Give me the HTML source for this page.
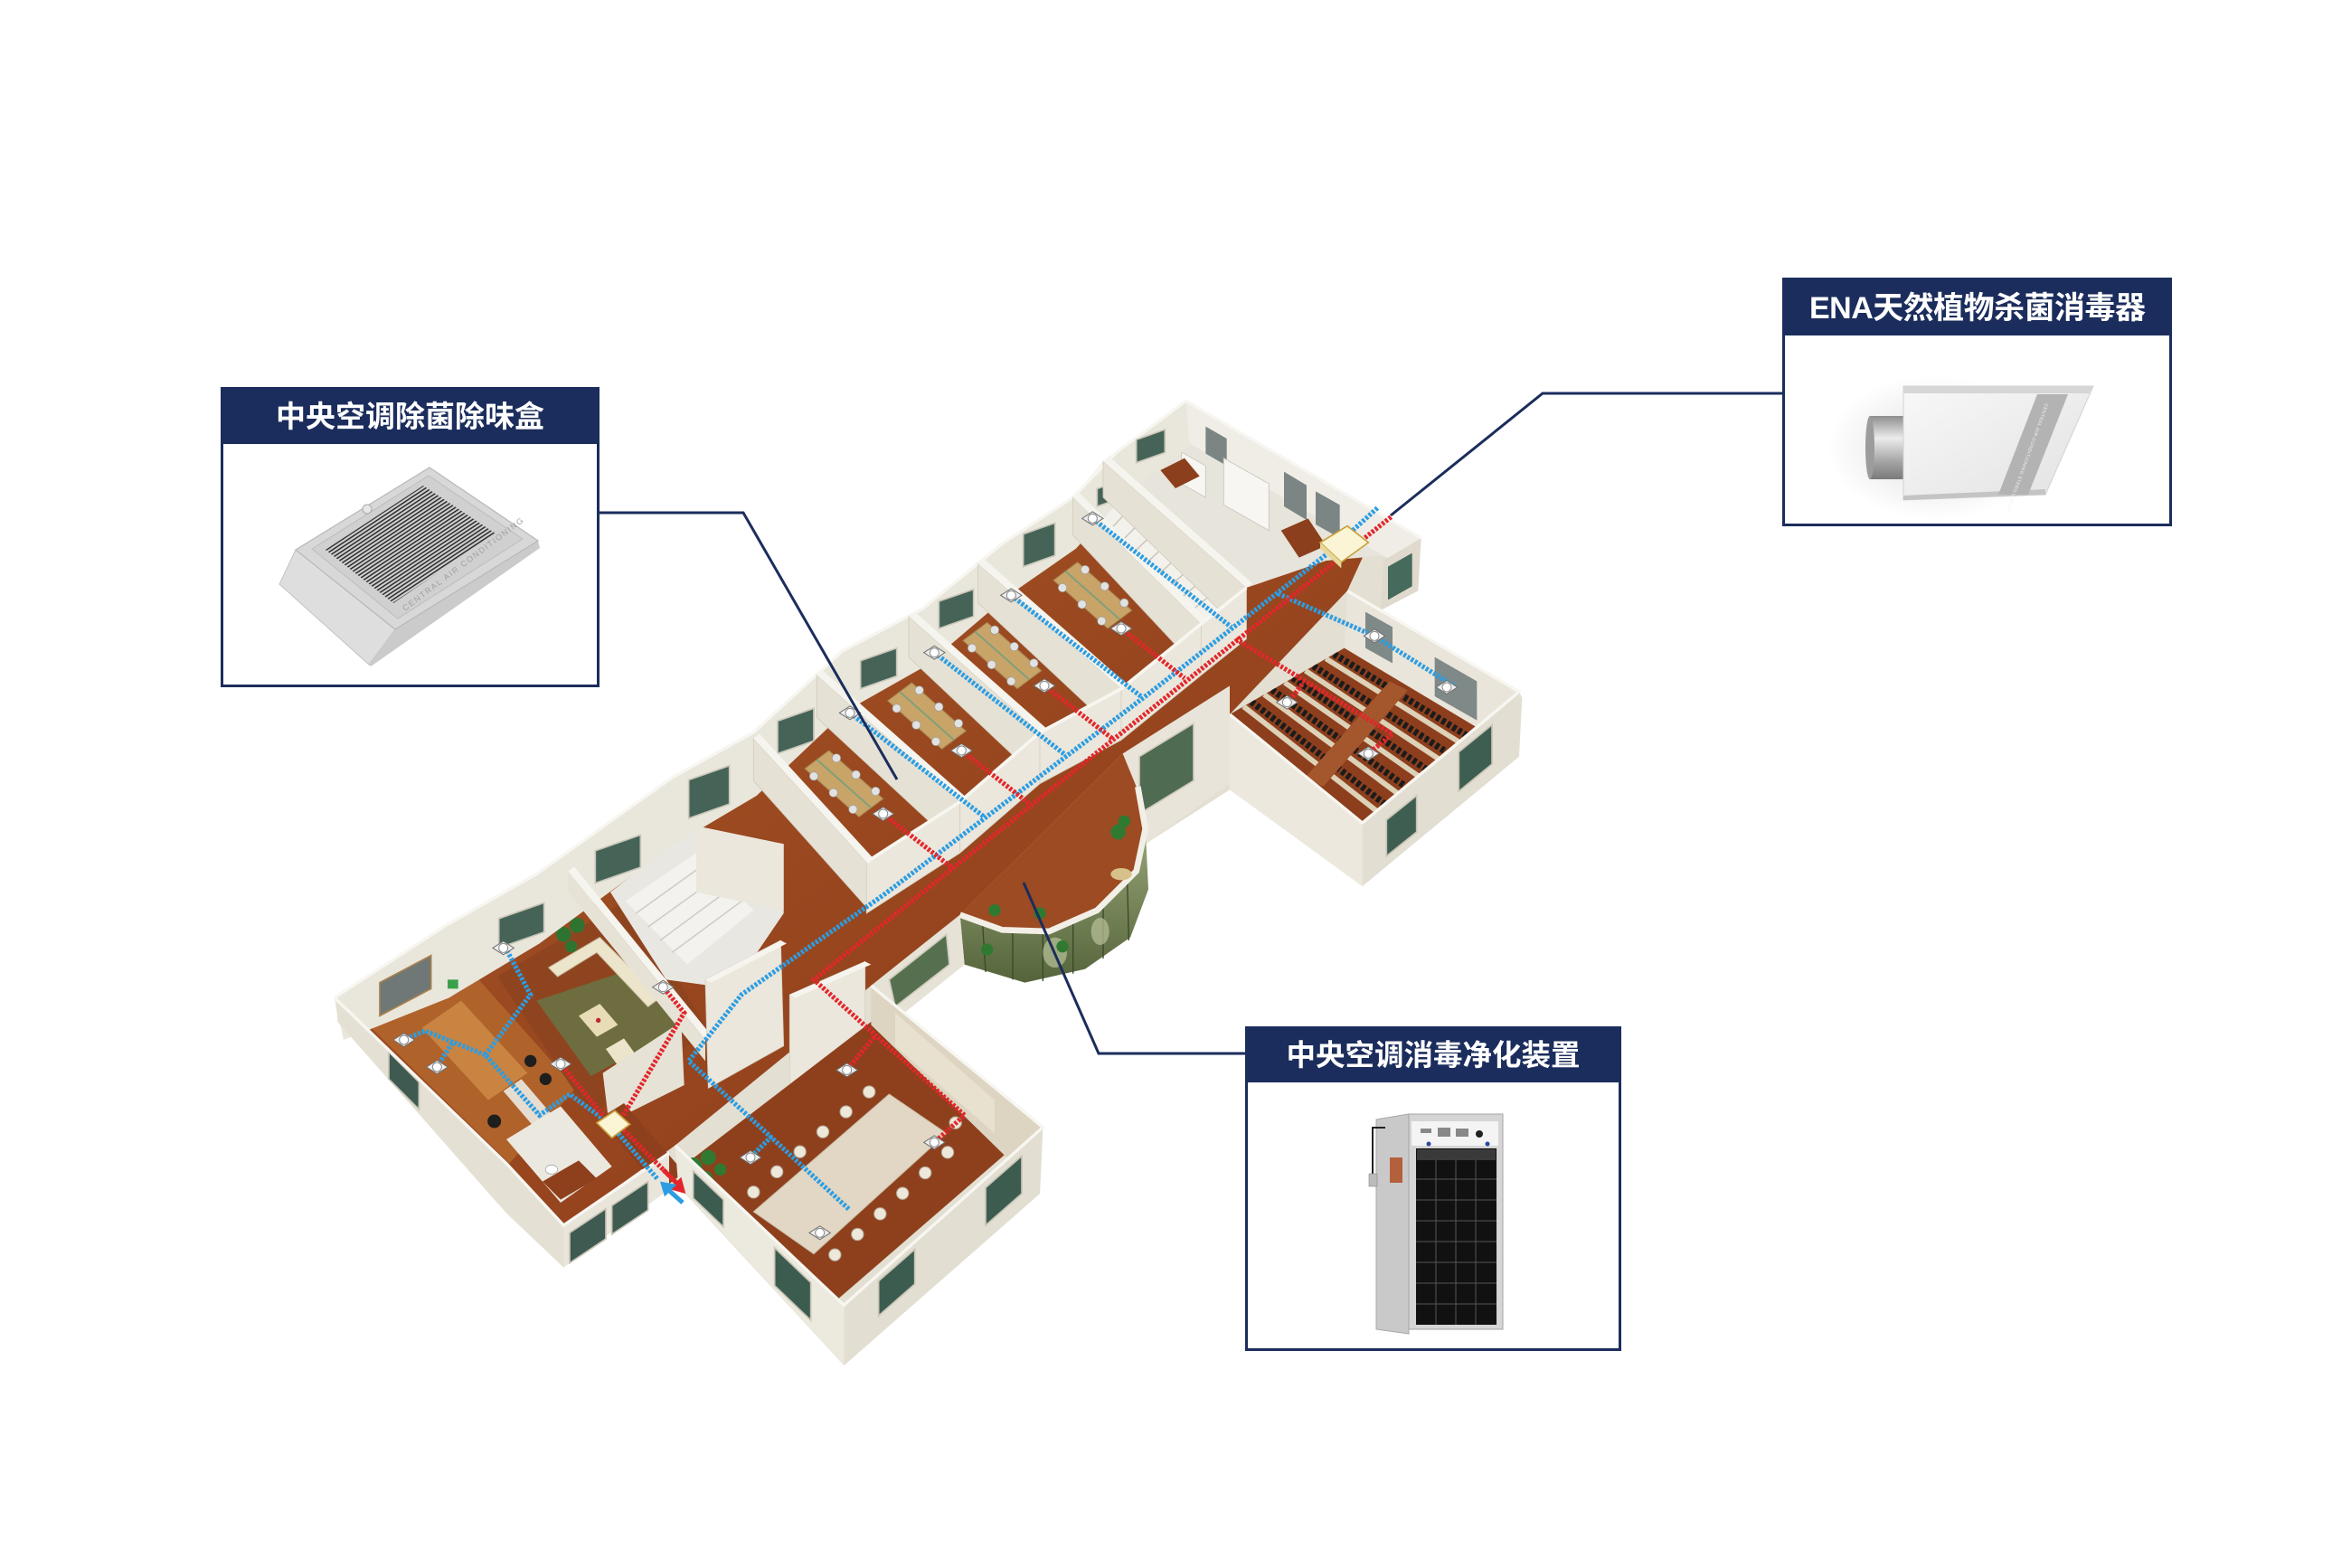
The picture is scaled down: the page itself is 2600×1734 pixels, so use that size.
<!DOCTYPE html>
<html lang="zh"><head><meta charset="utf-8"><title>中央空调消毒系统示意图</title>
<style>
html,body{margin:0;padding:0;background:#ffffff;width:2600px;height:1734px;overflow:hidden;}
svg{display:block;}
.t{font-family:"Liberation Sans","Noto Sans CJK SC",sans-serif;font-weight:700;fill:#ffffff;}
</style></head>
<body>
<svg xmlns="http://www.w3.org/2000/svg" width="2600" height="1734" viewBox="0 0 2600 1734">
<defs>
<linearGradient id="wood" x1="0" y1="0" x2="1" y2="1">
<stop offset="0" stop-color="#a8582a"/><stop offset="0.5" stop-color="#99471f"/><stop offset="1" stop-color="#8a3b19"/>
</linearGradient>
<linearGradient id="glass" x1="0" y1="0" x2="0" y2="1">
<stop offset="0" stop-color="#96a476"/><stop offset="1" stop-color="#56643c"/>
</linearGradient>
<linearGradient id="cyl" x1="0" y1="0" x2="0" y2="1">
<stop offset="0" stop-color="#8e8e8e"/><stop offset="0.35" stop-color="#ececec"/><stop offset="0.7" stop-color="#a8a8a8"/><stop offset="1" stop-color="#7a7a7a"/>
</linearGradient>
<linearGradient id="ena" x1="0" y1="0" x2="1" y2="1">
<stop offset="0" stop-color="#f8f8f8"/><stop offset="1" stop-color="#e2e2e2"/>
</linearGradient>
<radialGradient id="shadow" cx="0.5" cy="0.5" r="0.5">
<stop offset="0" stop-color="#000" stop-opacity="0.13"/><stop offset="1" stop-color="#000" stop-opacity="0"/>
</radialGradient>
<pattern id="slots" width="12" height="3.6" patternUnits="userSpaceOnUse" patternTransform="rotate(-33.5)">
<rect x="0" y="0" width="12" height="1.5" fill="#2a2a2a"/>
</pattern>
<clipPath id="lec"><polygon points="816,474 892,430 1004,497 904,546"/></clipPath>
<g id="df"><polygon points="-7,0 0,-4.5 7,0 0,4.5" fill="#eeeeee" stroke="#6f6f6f" stroke-width="0.6"/><circle r="3" fill="#ffffff" stroke="#8a8a8a" stroke-width="0.6"/></g>
<g id="desk"><polygon points="-26,-10 10,22 26,10 -10,-22" fill="#c9a469" stroke="#a58350" stroke-width="0.6"/><line x1="-18" y1="-16" x2="18" y2="16" stroke="#7fa07a" stroke-width="1.2"/><g fill="#e2e2e2" stroke="#9a9a9a" stroke-width="0.4"><circle cx="-20" cy="-5" r="2.8"/><circle cx="-7" cy="6" r="2.8"/><circle cx="6" cy="17" r="2.8"/><circle cx="-5" cy="-17" r="2.8"/><circle cx="8" cy="-6" r="2.8"/><circle cx="21" cy="5" r="2.8"/></g></g>
</defs>

<rect width="2600" height="1734" fill="#ffffff"/>

<!-- ================= BUILDING (drawn in 1560x1040 units) ================= -->
<g transform="scale(1.666667)">
<polygon fill="#e3dfd2" points="222,662 296,614 356,580 446,516 500,486 559,432 612,404 666,360 712,330 741,300 787,266 943,357 941,373 916,405 1008,459 1010,463 1008,502 904,588 816,524 757,562 762,590 750,622 720,643 680,652 640,640 600,672 692,748 690,792 560,906 450,787 444,789 374,841 336,803 224,675"/>
<polygon fill="url(#wood)" points="230,668 300,630 356,598 446,540 500,510 559,458 612,430 666,388 712,358 741,330 790,300 905,368 894,392 816,474 745,500 637,607 578,654 448,760 374,813 336,778 226,668"/>

<!-- upper block -->
<polygon fill="#e7e4db" points="732,306 787,266 943,357 925,368 880,372 827,390"/>
<polygon fill="#efede6" points="787,266 943,357 941,382 789,294"/>
<polygon fill="#7b8584" points="800,283 814,291 814,309 800,301"/>
<polygon fill="#7b8584" points="852,313 867,322 867,345 852,336"/>
<polygon fill="#7b8584" points="873,326 889,335 889,357 873,348"/>
<polygon fill="#f7f6f2" stroke="#cfcbc2" stroke-width="0.6" points="812,304 842,321 842,352 812,335"/>
<polygon fill="#f7f6f2" stroke="#cfcbc2" stroke-width="0.6" points="784,300 800,309 800,330 784,321"/>
<polygon fill="#8c3f1c" points="770,312 786,304 796,316 780,324"/>
<polygon fill="#8c3f1c" points="850,352 868,344 880,362 862,370"/>
<polygon fill="#dfdacd" points="918,372 943,357 941,392 916,405"/>
<polygon fill="#466a5c" points="921,376 937,367 937,389 921,398"/>

<!-- stairs -->
<polygon fill="#f3f1eb" points="712,330 732,306 827,390 797,414"/>
<g stroke="#cbc6bb" stroke-width="0.9">
<line x1="719.7" y1="337.6" x2="740.6" y2="313.6"/><line x1="727.5" y1="345.3" x2="749.3" y2="321.3"/>
<line x1="735.2" y1="352.9" x2="757.9" y2="328.9"/><line x1="742.9" y1="360.5" x2="766.5" y2="336.5"/>
<line x1="750.6" y1="368.2" x2="775.2" y2="344.2"/><line x1="758.4" y1="375.8" x2="783.8" y2="351.8"/>
<line x1="766.1" y1="383.5" x2="792.5" y2="359.5"/><line x1="773.8" y1="391.1" x2="801.1" y2="367.1"/>
<line x1="781.5" y1="398.7" x2="809.7" y2="374.7"/><line x1="789.3" y1="406.4" x2="818.4" y2="382.4"/>
</g>

<!-- left part rooms -->
<polygon fill="#b0622b" points="232,668 298,628 382,722 338,772"/>
<polygon fill="#c98442" points="280,682 306,664 350,712 324,730"/>
<polygon fill="#8f4420" points="330,648 418,596 470,684 392,740"/>
<polygon fill="#6e6d3f" points="356,664 416,644 452,682 392,714"/>
<polygon fill="#ece4cb" stroke="#c9bf9f" stroke-width="0.6" points="364,642 398,622 438,662 430,668 396,632 370,648"/>
<polygon fill="#e8dcb6" points="384,674 398,666 410,680 396,688"/>
<circle cx="397" cy="677" r="1.6" fill="#c0282a"/>
<polygon fill="#ece4cb" points="402,696 414,689 422,700 410,707"/>
<g fill="#2e7430"><circle cx="374" cy="620" r="5"/><circle cx="383" cy="614" r="5"/><circle cx="379" cy="628" r="4"/></g>
<!-- stair hall (light) -->
<polygon fill="#e9e7e1" points="405,592 462,548 520,560 520,606 486,656 442,650"/>
<polygon fill="#f3f2ee" points="415,598 462,566 500,604 456,640"/>
<g stroke="#cfcbc2" stroke-width="0.9"><line x1="422" y1="606" x2="468" y2="573"/><line x1="430" y1="615" x2="476" y2="582"/><line x1="438" y1="624" x2="484" y2="590"/><line x1="446" y1="632" x2="492" y2="598"/></g>
<polygon fill="#ebe7dc" points="462,548 520,560 520,604 462,592"/>
<polygon fill="#e6ddd0" points="334,724 346,716 370,744 358,752"/>
<g fill="#1e1e1e"><circle cx="352" cy="704" r="4"/><circle cx="362" cy="716" r="4"/><circle cx="328" cy="744" r="4.5"/></g>

<!-- back wall band -->
<polygon fill="#e9e6dc" points="222,662 296,614 356,580 446,516 500,486 559,432 612,404 666,360 712,330 741,300 787,266 789,296 743,332 714,364 668,396 614,442 561,472 502,528 448,560 358,626 298,662 228,690"/>
<polyline fill="none" stroke="#f7f6f1" stroke-width="2" points="222,662 296,614 356,580 446,516 500,486 559,432 612,404 666,360 712,330 741,300 787,266 943,357"/>
<g fill="#456457" stroke="#cbc7ba" stroke-width="1">
<polygon points="331,609.5 361,599 361,618.5 331,629"/>
<polygon points="395,564.5 425,554 425,575.5 395,586"/>
<polygon points="457,517.5 484,508 484,533.5 457,543"/>
<polygon points="516,478.4 540,470 540,491.6 516,500"/>
<polygon points="571,438.4 595,430 595,448.6 571,457"/>
<polygon points="623,399 646,391 646,409 623,417"/>
<polygon points="679,354.4 700,347 700,368.6 679,376"/>
<polygon points="728,324.3 746,318 746,329.7 728,336"/>
<polygon points="754,291.7 773,285 773,300.3 754,307"/>
</g>
<polygon fill="#6f7876" stroke="#a9814c" stroke-width="1" points="252,652 286,634 286,656 252,674"/>
<rect x="297" y="650" width="7" height="6" fill="#3aa14a"/>

<!-- office desks -->
<use href="#desk" x="560" y="520"/>
<use href="#desk" x="615" y="475"/>
<use href="#desk" x="665" y="435"/>
<use href="#desk" x="725" y="395"/>

<!-- office partitions -->
<g fill="#e5e1d5" stroke="#d2ccbd" stroke-width="0.5">
<polygon points="500,490 575,572 575,602 500,518"/>
<polygon points="542,448 637,532 637,564 542,476"/>
<polygon points="603,409 690,486 690,518 603,436"/>
<polygon points="649,374 744,457 744,489 649,400"/>
<polygon points="712,330 797,414 797,446 712,355"/>
<polygon points="732,306 827,390 827,422 732,330"/>
</g>
<g fill="#f6f4ee">
<polygon points="500,490 504,487 579,569 575,572"/>
<polygon points="542,448 546,445 641,529 637,532"/>
<polygon points="603,409 607,406 694,483 690,486"/>
<polygon points="649,374 653,371 748,454 744,457"/>
<polygon points="712,330 716,327 801,411 797,414"/>
<polygon points="732,306 736,303 831,387 827,390"/>
</g>
<g fill="#ebe7dc" stroke="#d6d0c2" stroke-width="0.5">
<polygon points="575,572 637,532 637,566 575,606"/>
<polygon points="637,532 690,486 690,520 637,566"/>
<polygon points="690,486 744,457 744,491 690,520"/>
<polygon points="744,457 797,414 797,448 744,491"/>
<polygon points="797,414 827,390 827,424 797,448"/>
</g>
<polyline fill="none" stroke="#f7f6f1" stroke-width="2.2" points="575,572 637,532 690,486 744,457 797,414 827,390"/>

<!-- lobby slabs -->
<polygon fill="#e6e2d6" points="377,578 468,690 468,704 377,592"/>
<polygon fill="#f6f4ee" points="377,578 381,575 472,687 468,690"/>
<polygon fill="#ebe7dc" stroke="#d6d0c2" stroke-width="0.5" points="468,650 518,624 520,694 470,722"/>
<polygon fill="#f6f4ee" points="468,650 518,624 522,626 472,652"/>
<polygon fill="#ebe7dc" stroke="#d6d0c2" stroke-width="0.5" points="524,660 574,638 574,700 524,724"/>
<polygon fill="#f6f4ee" points="524,660 574,638 578,640 528,662"/>
<polygon fill="#e6e2d6" points="400,712 452,678 454,720 404,745"/>
<polygon fill="#ebe8e0" points="336,756 372,734 406,774 372,798"/>
<polygon fill="#8e401d" points="360,784 384,770 396,782 372,796"/>
<ellipse cx="366" cy="776" rx="4" ry="3" fill="#ffffff" stroke="#aaaaaa" stroke-width="0.5"/>
<polygon fill="#8e401d" points="398,742 414,732 454,778 438,790"/>

<!-- lecture wing -->
<polygon fill="#e9e5da" points="894,392 1008,459 1004,497 892,430"/>
<polygon fill="#7f8988" points="906,406 924,416 924,440 906,430"/>
<polygon fill="#7f8988" points="952,436 980,452 980,478 952,462"/>
<polygon fill="#8d3f1d" points="816,474 892,430 1004,497 904,546"/>
<g clip-path="url(#lec)">
<g stroke="#ddd2b8" stroke-width="3.5">
<line x1="879.8" y1="437" x2="988" y2="504.8"/>
<line x1="866.2" y1="445" x2="970" y2="513.7"/>
<line x1="852.5" y1="452.9" x2="952" y2="522.5"/>
<line x1="838.8" y1="460.8" x2="934" y2="531.3"/>
<line x1="825.1" y1="468.7" x2="916" y2="540.1"/>
</g>
<g stroke="#1b1b1b" stroke-width="4.5" stroke-dasharray="2.6 1.6">
<line x1="885.2" y1="434" x2="995" y2="501.4"/>
<line x1="871.5" y1="441.9" x2="977" y2="510.2"/>
<line x1="857.8" y1="449.8" x2="959" y2="519.1"/>
<line x1="844.1" y1="457.7" x2="941" y2="527.9"/>
<line x1="830.4" y1="465.6" x2="923" y2="536.7"/>
</g>
<polygon fill="#a4562c" points="922,452 934,458 878,522 866,516"/>
</g>
<polygon fill="#e2ded1" points="1008,459 904,546 904,588 1008,502"/>
<polygon fill="#ece8de" points="816,474 904,546 904,588 816,524"/>
<g fill="#3f5e52" stroke="#c8c3b5" stroke-width="1"><polygon points="968,499 990,481 990,507 968,525"/><polygon points="920,544 940,528 940,552 920,568"/></g>
<polyline fill="none" stroke="#f7f6f1" stroke-width="2" points="894,392 1008,459 904,546 816,474"/>

<!-- facade between atrium and lecture -->
<polygon fill="#e8e4d9" points="745,500 816,455 816,520 757,562"/>
<polygon fill="#4f6b52" stroke="#cfcabd" stroke-width="1" points="756,502 792,480 792,518 756,540"/>

<!-- atrium -->
<polygon fill="#9c4b22" points="637,607 745,500 754,522 760,550 754,578 728,604 696,618 665,617"/>
<polygon fill="url(#glass)" points="637,607 665,617 696,618 728,604 754,578 760,550 762,590 750,622 720,643 680,652 640,640"/>
<g stroke="#3b4829" stroke-width="0.8"><line x1="652" y1="613" x2="654" y2="645"/><line x1="672" y1="618" x2="672" y2="650"/><line x1="692" y1="618" x2="692" y2="651"/><line x1="712" y1="612" x2="712" y2="646"/><line x1="732" y1="600" x2="732" y2="636"/><line x1="748" y1="584" x2="749" y2="624"/></g>
<g fill="#b9c29a" opacity="0.7"><ellipse cx="700" cy="632" rx="8" ry="10"/><ellipse cx="730" cy="618" rx="6" ry="9"/></g>
<polyline fill="none" stroke="#f2efe7" stroke-width="4" points="637,607 665,617 696,618 728,604 754,578 760,550 755,522"/>
<g fill="#2f7a30"><circle cx="742" cy="552" r="5"/><circle cx="746" cy="545" r="4"/><circle cx="690" cy="606" r="4"/><circle cx="660" cy="604" r="4"/><circle cx="655" cy="630" r="4"/><circle cx="705" cy="628" r="4"/></g>
<ellipse cx="744" cy="580" rx="7" ry="4" fill="#d8c08a"/>

<!-- facade left of atrium -->
<polygon fill="#e6e2d6" points="578,654 637,607 640,640 600,672"/>
<polygon fill="#56704f" stroke="#d0cbbe" stroke-width="1" points="590,650 628,620 630,640 594,668"/>

<!-- conference wing -->
<polygon fill="#8e401d" points="578,678 668,765 556,862 458,770"/>
<polygon fill="#ddd5c1" points="578,654 692,748 668,768 578,680"/>
<polygon fill="#e8e1cf" points="594,672 660,730 660,752 594,694"/>
<g fill="#2f7a30"><circle cx="460" cy="774" r="6"/><circle cx="470" cy="768" r="5"/><circle cx="468" cy="782" r="5"/><circle cx="478" cy="776" r="4"/></g>
<polygon fill="#e1d7c4" stroke="#c9bda6" stroke-width="0.6" points="590,726 628,752 540,832 500,804"/>
<g fill="#eee8da" stroke="#b3aa97" stroke-width="0.6">
<circle cx="500" cy="791" r="4"/><circle cx="515.5" cy="777.5" r="4"/><circle cx="530.8" cy="764.2" r="4"/><circle cx="546" cy="751" r="4"/><circle cx="561.4" cy="737.7" r="4"/><circle cx="576.7" cy="724.5" r="4"/>
<circle cx="554" cy="832.6" r="4"/><circle cx="569" cy="819" r="4"/><circle cx="584" cy="805.4" r="4"/><circle cx="598.9" cy="791.8" r="4"/><circle cx="613.9" cy="778.2" r="4"/><circle cx="628.8" cy="764.6" r="4"/>
<circle cx="493" cy="810" r="4"/><circle cx="634" cy="745" r="4"/>
</g>
<polygon fill="#e2ded1" points="692,748 560,866 560,906 690,792"/>
<polygon fill="#ece9df" points="448,760 560,866 560,906 450,786"/>
<g fill="#3d5c50" stroke="#cac5b8" stroke-width="1"><polygon points="654,788 678,767 678,792 654,813"/><polygon points="583,850 607,829 607,852 583,873"/><polygon points="514,828 538,851 538,876 514,853"/><polygon points="460,777 480,796 480,814 460,795"/></g>
<polyline fill="none" stroke="#f7f6f1" stroke-width="2" points="578,654 692,748 560,866 448,760"/>

<!-- left outer faces -->
<polygon fill="#e4e0d3" points="223,662 336,772 374,813 374,841 336,805 224,678"/>
<polygon fill="#3e5a51" stroke="#c9c4b6" stroke-width="1" points="258,698 278,718 278,736 258,716"/>
<polygon fill="#e9e5da" points="374,813 444,765 444,789 374,841"/>
<g fill="#3e5a51" stroke="#c9c4b6" stroke-width="1"><polygon points="378,818 402,802 402,822 378,838"/><polygon points="406,800 430,784 430,803 406,819"/></g>
<polyline fill="none" stroke="#f7f6f1" stroke-width="2" points="222,662 336,772 374,813 444,765"/>

<!-- ducts -->
<g fill="none" stroke-width="3.2" stroke-dasharray="1.8 1.1">
<g stroke="#2c9de2">
<polyline points="914,337 880,368 760,462 586,594 492,660 457,704 564,803"/>
<line x1="564" y1="473" x2="653" y2="542"/>
<line x1="620" y1="433" x2="707" y2="501"/>
<line x1="671" y1="395" x2="757" y2="462"/>
<line x1="725" y1="344" x2="817" y2="416"/>
<polyline points="848,394 912,422 966,456"/>
<line x1="512" y1="754" x2="498" y2="768"/>
<polyline points="436,782 405,746 378,726 358,740 322,700 352,660 336,630"/>
<polyline points="322,700 282,684 268,690"/>
<line x1="300" y1="692" x2="290" y2="708"/>
</g>
<g stroke="#e3262b">
<polyline points="923,343 540,650 640,740 620,758"/>
<line x1="586" y1="540" x2="632" y2="576"/>
<line x1="638" y1="498" x2="684" y2="534"/>
<line x1="693" y1="455" x2="738" y2="490"/>
<line x1="744" y1="417" x2="786" y2="450"/>
<polyline points="820,424 924,487 908,500"/>
<line x1="864" y1="454" x2="855" y2="466"/>
<line x1="580" y1="688" x2="562" y2="710"/>
<polyline points="444,780 410,746 454,672 440,655"/>
<line x1="400" y1="740" x2="372" y2="706"/>
</g>
</g>

<!-- diffusers -->
<use href="#df" x="564" y="473"/><use href="#df" x="620" y="433"/><use href="#df" x="671" y="395"/><use href="#df" x="725" y="344"/>
<use href="#df" x="586" y="540"/><use href="#df" x="638" y="498"/><use href="#df" x="693" y="455"/><use href="#df" x="744" y="417"/>
<use href="#df" x="912" y="422"/><use href="#df" x="960" y="456"/><use href="#df" x="854" y="466"/><use href="#df" x="908" y="500"/>
<use href="#df" x="544" y="818"/><use href="#df" x="498" y="768"/><use href="#df" x="562" y="710"/><use href="#df" x="620" y="758"/>
<use href="#df" x="334" y="629"/><use href="#df" x="440" y="655"/><use href="#df" x="372" y="706"/><use href="#df" x="268" y="690"/><use href="#df" x="290" y="708"/>

<!-- yellow units -->
<polygon fill="#fbf5d6" stroke="#c9a23e" stroke-width="1" points="876,360 894,349 908,360 890,373"/>
<polygon fill="#e6d79a" points="876,360 890,373 890,377 876,364"/>
<polygon fill="#fbf5d6" stroke="#c9a23e" stroke-width="1" points="396,745 408,737 418,746 406,755"/>

<!-- exit arrows -->
<line x1="440" y1="776" x2="449" y2="785" stroke="#e3262b" stroke-width="3"/>
<polygon fill="#e3262b" points="455,792 444,789 452,781"/>
<line x1="453" y1="798" x2="444" y2="790" stroke="#2c9de2" stroke-width="3"/>
<polygon fill="#2c9de2" points="438,784 449,786 441,794"/>
</g>

<!-- ================= CONNECTOR LINES ================= -->
<g fill="none" stroke="#1b2d5c" stroke-width="3">
<polyline points="663,567 822,567 992,862"/>
<polyline points="1971,435 1706,435 1538,570"/>
<polyline points="1377,1165 1215,1165 1132,976"/>
</g>

<!-- ================= BOX 1 ================= -->
<rect x="245.5" y="429.5" width="416" height="329" fill="#ffffff" stroke="#1b2d5c" stroke-width="3"/>
<rect x="244" y="428" width="419" height="63" fill="#1b2d5c"/>
<text class="t" x="453.5" y="472" text-anchor="middle" font-size="33">中央空调除菌除味盒</text>
<polygon fill="#dedede" stroke="#c2c2c2" stroke-width="1" points="327,608 437,696 408,735 309,646"/>
<polygon fill="#cbcbcb" points="437,696 595,598 597,606 410,737 408,735"/>
<polygon fill="#d8d8d8" stroke="#b8b8b8" stroke-width="1.2" points="327,608 475,517 595,598 437,696"/>
<polygon fill="#d0d0d0" stroke="#bdbdbd" stroke-width="1" points="345,607 474,526 578,596 440,684"/>
<polygon fill="url(#slots)" points="360,608 468,537 548,590 435,667"/>
<circle cx="406" cy="563" r="5" fill="#e8e8e8" stroke="#a8a8a8" stroke-width="1"/>
<text x="448" y="676" transform="rotate(-37 448 676)" font-family="Liberation Sans, sans-serif" font-size="9" letter-spacing="1.6" fill="#a0a0a0">CENTRAL AIR CONDITIONING</text>

<!-- ================= BOX 2 ================= -->
<rect x="1972.5" y="308.5" width="428" height="272" fill="#ffffff" stroke="#1b2d5c" stroke-width="3"/>
<rect x="1971" y="307" width="431" height="64" fill="#1b2d5c"/>
<text class="t" x="2001" y="352" font-size="34" textLength="372" lengthAdjust="spacing">ENA天然植物杀菌消毒器</text>
<ellipse cx="2140" cy="495" rx="120" ry="80" fill="url(#shadow)"/>
<rect x="2068" y="460" width="38" height="70" fill="url(#cyl)"/>
<ellipse cx="2068" cy="495" rx="5" ry="35" fill="#9c9c9c"/>
<polygon fill="url(#ena)" stroke="#d2d2d2" stroke-width="1" points="2105,427 2315,427 2262,547 2105,553"/>
<polygon fill="#d6d6d6" points="2105,427 2315,427 2311,435 2105,435"/>
<polygon fill="#c4c4c4" points="2105,548 2262,541 2262,547 2105,553"/>
<polygon fill="#b3b3b3" points="2253,436 2287,436 2243,547 2210,547"/>
<text x="2262" y="446" transform="rotate(110 2262 446)" font-family="Liberation Sans, sans-serif" font-size="5" letter-spacing="0.5" fill="#f2f2f2">CENTRAL AIR-CONDITIONING STERILIZATOR</text>

<!-- ================= BOX 3 ================= -->
<rect x="1378.5" y="1136.5" width="413" height="356" fill="#ffffff" stroke="#1b2d5c" stroke-width="3"/>
<rect x="1377" y="1135" width="416" height="62" fill="#1b2d5c"/>
<text class="t" x="1585" y="1178" text-anchor="middle" font-size="32.5">中央空调消毒净化装置</text>
<polygon fill="#c9c9c9" stroke="#a8a8a8" stroke-width="1" points="1522,1238 1558,1232 1558,1475 1522,1470"/>
<rect x="1558" y="1232" width="104" height="238" fill="#d5d5d5" stroke="#a5a5a5" stroke-width="1"/>
<rect x="1561" y="1240" width="96" height="27" fill="#f4f4f4"/>
<circle cx="1636" cy="1254" r="4" fill="#222222"/>
<g fill="#888888"><rect x="1571" y="1248" width="12" height="5"/><rect x="1590" y="1247" width="14" height="10"/><rect x="1610" y="1248" width="14" height="9"/></g>
<circle cx="1580" cy="1265" r="2.5" fill="#2a4aa0"/><circle cx="1645" cy="1265" r="2.5" fill="#2a4aa0"/>
<rect x="1566" y="1270" width="89" height="195" fill="#111111"/>
<rect x="1567" y="1271" width="87" height="12" fill="#3a3a3a"/>
<g stroke="#555555" stroke-width="1">
<line x1="1588" y1="1283" x2="1588" y2="1465"/><line x1="1610" y1="1283" x2="1610" y2="1465"/><line x1="1632" y1="1283" x2="1632" y2="1465"/>
<line x1="1566" y1="1304" x2="1655" y2="1304"/><line x1="1566" y1="1327" x2="1655" y2="1327"/><line x1="1566" y1="1350" x2="1655" y2="1350"/>
<line x1="1566" y1="1373" x2="1655" y2="1373"/><line x1="1566" y1="1396" x2="1655" y2="1396"/><line x1="1566" y1="1419" x2="1655" y2="1419"/><line x1="1566" y1="1442" x2="1655" y2="1442"/>
</g>
<rect x="1537" y="1280" width="14" height="28" fill="#b5603c"/>
<polyline points="1532,1247 1518,1247 1518,1300" fill="none" stroke="#222222" stroke-width="2"/>
<rect x="1514" y="1298" width="9" height="14" fill="#bbbbbb" stroke="#888888" stroke-width="0.6"/>
</svg>
</body></html>
